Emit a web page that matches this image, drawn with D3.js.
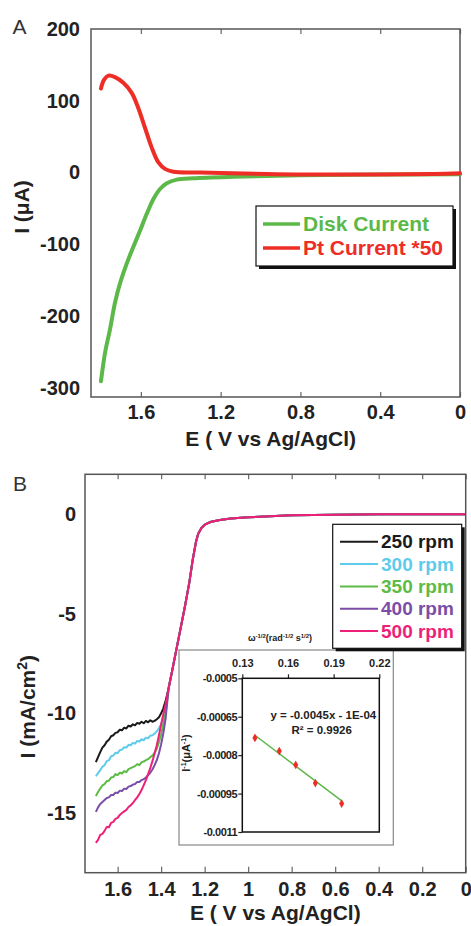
<!DOCTYPE html>
<html>
<head>
<meta charset="utf-8">
<script src="https://cdn.jsdelivr.net/npm/d3@7"></script>
<style>
  body { margin: 0; background: #fff; }
  svg { display: block; font-family: "Liberation Sans", Arial, sans-serif; }
</style>
</head>
<body>
<svg id="chart" width="471" height="926"></svg>
<script>
// ---- Panel A data (E in V, I in µA) ----
const diskPotential = [1.80, 1.78, 1.755, 1.73, 1.705, 1.671, 1.638, 1.604, 1.571, 1.537, 1.504, 1.47, 1.42, 1.337, 1.136, 0.8, 0.4, 0];
const diskCurrent   = [-291, -252, -219, -182, -155, -127, -104, -81, -58, -37, -23, -15, -10, -8, -6, -4, -3, -2.5];
const ptPotential   = [1.80, 1.785, 1.763, 1.73, 1.688, 1.646, 1.613, 1.579, 1.546, 1.512, 1.479, 1.437, 1.303, 0.969, 0.634, 0.134, 0];
const ptCurrent     = [117, 129, 135, 133, 125, 111, 90, 62, 35, 14, 5, 1, 0, -2, -3, -2, -1];
const ticksAx = [1.6, 1.2, 0.8, 0.4, 0];
const ticksAy = [200, 100, 0, -100, -200, -300];
const legendA = ["Disk Current", "Pt Current *50"];

// ---- Panel B data (E in V, I in mA/cm2) ----
const lowPotential = [1.70, 1.69, 1.68, 1.67, 1.66, 1.65, 1.64, 1.63, 1.62, 1.61, 1.60, 1.59, 1.58, 1.57, 1.56, 1.55, 1.54,
                      1.53, 1.52, 1.51, 1.50, 1.49, 1.48, 1.47, 1.46, 1.45, 1.44, 1.43, 1.42, 1.41, 1.40, 1.39, 1.38];
const rpm250 = [-12.45, -12.2, -11.95, -11.72, -11.6, -11.42, -11.33, -11.15, -11.1, -10.98, -10.95, -10.82, -10.85, -10.72, -10.76, -10.62, -10.66,
                -10.55, -10.6, -10.48, -10.52, -10.42, -10.5, -10.38, -10.45, -10.35, -10.42, -10.38, -10.3, -10.2, -10.0, -9.75, -9.4];
const rpm300 = [-13.15, -13.0, -12.85, -12.68, -12.6, -12.4, -12.35, -12.15, -12.12, -11.98, -12.0, -11.85, -11.82, -11.7, -11.72, -11.58, -11.6,
                -11.48, -11.52, -11.38, -11.42, -11.3, -11.35, -11.22, -11.25, -11.12, -11.1, -11.02, -10.9, -10.75, -10.55, -10.25, -9.8];
const rpm350 = [-14.15, -13.95, -13.78, -13.62, -13.55, -13.4, -13.38, -13.22, -13.2, -13.05, -13.1, -12.98, -13.02, -12.9, -12.95, -12.8, -12.75,
                -12.7, -12.65, -12.55, -12.6, -12.45, -12.42, -12.35, -12.3, -12.2, -12.12, -11.98, -11.78, -11.45, -11.05, -10.55, -10.0];
const rpm400 = [-14.95, -14.72, -14.55, -14.45, -14.35, -14.25, -14.22, -14.1, -14.1, -13.98, -14.0, -13.88, -13.9, -13.78, -13.8, -13.68, -13.65,
                -13.58, -13.55, -13.45, -13.45, -13.35, -13.3, -13.22, -13.1, -12.98, -12.82, -12.6, -12.35, -12.0, -11.55, -11.0, -10.3];
const rpm500 = [-16.5, -16.35, -16.1, -16.05, -15.9, -15.7, -15.72, -15.5, -15.45, -15.3, -15.25, -15.1, -15.0, -14.92, -14.85, -14.7, -14.62,
                -14.5, -14.35, -14.22, -14.05, -13.85, -13.6, -13.35, -13.05, -12.75, -12.4, -12.0, -11.6, -11.1, -10.55, -10.05, -9.55];
// all speeds overlap on the kinetic wave and the baseline
const tailPotential = [1.365, 1.35, 1.32, 1.29, 1.27, 1.255, 1.24, 1.23, 1.215, 1.195, 1.17, 1.13, 1.08, 1.0, 0.9, 0.8, 0.6, 0.4, 0.2, 0];
const tailCurrent   = [-8.7, -7.9, -6.25, -4.6, -3.4, -2.3, -1.4, -1.0, -0.7, -0.5, -0.38, -0.29, -0.22, -0.16, -0.1, -0.06, -0.03, -0.01, 0, 0];
const rpmLabels = ["250 rpm", "300 rpm", "350 rpm", "400 rpm", "500 rpm"];
const rpmColors = ["#1a1a1a", "#5ecbeb", "#5dbb46", "#7a4ea6", "#ee1f78"];
const ticksBx = [1.6, 1.4, 1.2, 1, 0.8, 0.6, 0.4, 0.2, 0];
const ticksBy = [0, -5, -10, -15];

// ---- Inset data (Koutecky-Levich) ----
const omegaInvSqrt = [0.1383, 0.1543, 0.1651, 0.178, 0.1953];
const invCurrent   = [-0.000733, -0.000784, -0.000838, -0.000909, -0.000989];
const fitSlope = -0.0045, fitIntercept = -0.0001;
const ticksIx = [0.13, 0.16, 0.19, 0.22];
const ticksIy = [-0.0005, -0.00065, -0.0008, -0.00095, -0.0011];

const svg = d3.select("#chart");
const FONT = '"Liberation Sans", Arial, sans-serif';
const GREEN = "#5cb848", RED = "#ee2d27";

function styleTicks(g, size) {
    g.attr("font-family", FONT);
    g.select(".domain").remove();
    g.selectAll("line").attr("stroke", "#666").attr("stroke-width", 1.2);
    g.selectAll("text").attr("font-size", size).attr("font-weight", "bold").attr("fill", "#222");
}
const fmtE = d => String(+d.toFixed(1));
const plain = d => String(d);   // keep ASCII hyphen as in the original figure

// ================= Panel A =================
const xA = d3.scaleLinear().domain([1.85, 0]).range([91, 460]);
const yA = d3.scaleLinear().domain([-313, 200]).range([397, 29]);

svg.append("g").attr("transform", "translate(0,397)")
    .call(d3.axisBottom(xA).tickValues(ticksAx).tickSizeInner(-5).tickSizeOuter(0).tickPadding(8).tickFormat(fmtE))
    .call(g => styleTicks(g, 20));
svg.append("g").attr("transform", "translate(0,29)")
    .call(d3.axisTop(xA).tickValues(ticksAx).tickSizeInner(-5).tickSizeOuter(0).tickFormat(""))
    .call(g => styleTicks(g, 20));
svg.append("g").attr("transform", "translate(91,0)")
    .call(d3.axisLeft(yA).tickValues(ticksAy).tickSize(0).tickPadding(11).tickFormat(plain))
    .call(g => styleTicks(g, 20));

svg.append("rect").attr("x", 91).attr("y", 29).attr("width", 369).attr("height", 368)
    .attr("fill", "none").attr("stroke", "#555").attr("stroke-width", 1.5);

const lineA = d3.line().x(d => xA(d[0])).y(d => yA(d[1])).curve(d3.curveCatmullRom);
svg.append("path").datum(d3.zip(diskPotential, diskCurrent))
    .attr("d", lineA).attr("fill", "none").attr("stroke", GREEN).attr("stroke-width", 4).attr("stroke-linecap", "round");
svg.append("path").datum(d3.zip(ptPotential, ptCurrent))
    .attr("d", lineA).attr("fill", "none").attr("stroke", RED).attr("stroke-width", 4).attr("stroke-linecap", "round");

// Legend A
const legA = svg.append("g");
legA.append("rect").attr("x", 259).attr("y", 209).attr("width", 197).attr("height", 60).attr("fill", "#111");
legA.append("rect").attr("x", 256).attr("y", 206).attr("width", 197).attr("height", 60)
    .attr("fill", "#fff").attr("stroke", "#111").attr("stroke-width", 1.2);
legendA.forEach((name, i) => {
    const c = i === 0 ? GREEN : RED;
    const yy = 224 + i * 24;
    legA.append("line").attr("x1", 263).attr("x2", 300).attr("y1", yy).attr("y2", yy)
        .attr("stroke", c).attr("stroke-width", 3.5);
    legA.append("text").attr("x", 303).attr("y", yy).attr("dy", "0.35em")
        .attr("font-size", 21).attr("font-weight", "bold").attr("fill", c).text(name);
});

svg.append("text").attr("x", 270.7).attr("y", 438.3).attr("dy", "0.35em").attr("text-anchor", "middle")
    .attr("font-size", 21).attr("font-weight", "bold").attr("fill", "#222").text("E ( V vs Ag/AgCl)");
svg.append("text").attr("transform", "translate(22,207) rotate(-90)").attr("dy", "0.35em").attr("text-anchor", "middle")
    .attr("font-size", 21).attr("font-weight", "bold").attr("fill", "#222").text("I (μA)");
svg.append("text").attr("x", 12.5).attr("y", 27).attr("dy", "0.35em")
    .attr("font-size", 21).attr("fill", "#333").text("A");

// ================= Panel B =================
const xB = d3.scaleLinear().domain([1.75, 0]).range([85, 465.7]);
const yB = d3.scaleLinear().domain([-18, 2]).range([872.7, 474.3]);

svg.append("g").attr("transform", "translate(0,872.7)")
    .call(d3.axisBottom(xB).tickValues(ticksBx).tickSizeInner(-6).tickSizeOuter(0).tickPadding(9.6).tickFormat(fmtE))
    .call(g => styleTicks(g, 20));
svg.append("g").attr("transform", "translate(0,474.3)")
    .call(d3.axisTop(xB).tickValues(ticksBx).tickSizeInner(-5).tickSizeOuter(0).tickFormat(""))
    .call(g => styleTicks(g, 20));
svg.append("g").attr("transform", "translate(85,0)")
    .call(d3.axisLeft(yB).tickValues(ticksBy).tickSize(0).tickPadding(9).tickFormat(plain))
    .call(g => styleTicks(g, 20));

svg.append("defs").append("clipPath").attr("id", "clipB")
    .append("rect").attr("x", 85).attr("y", 474.3).attr("width", 380.7).attr("height", 398.4);

const lineB = d3.line().x(d => xB(d[0])).y(d => yB(d[1]));
const seriesB = [rpm250, rpm300, rpm350, rpm400, rpm500];
const curvesB = svg.append("g").attr("clip-path", "url(#clipB)");
seriesB.forEach((vals, i) => {
    const pts = d3.zip(lowPotential, vals).concat(d3.zip(tailPotential, tailCurrent));
    curvesB.append("path").datum(pts).attr("d", lineB)
        .attr("fill", "none").attr("stroke", rpmColors[i]).attr("stroke-width", 2).attr("stroke-linejoin", "round");
});

svg.append("rect").attr("x", 85).attr("y", 474.3).attr("width", 380.7).attr("height", 398.4)
    .attr("fill", "none").attr("stroke", "#555").attr("stroke-width", 1.5);

// Inset
const xI = d3.scaleLinear().domain([0.13, 0.22]).range([242.3, 379.3]);
const yI = d3.scaleLinear().domain([-0.0011, -0.0005]).range([832, 678.3]);
svg.append("rect").attr("x", 179).attr("y", 650).attr("width", 214.3).attr("height", 195)
    .attr("fill", "#fff").attr("stroke", "#888").attr("stroke-width", 1.2);
svg.append("g").attr("transform", "translate(0,678.3)")
    .call(d3.axisTop(xI).tickValues(ticksIx).tickSize(4).tickPadding(7.5).tickFormat(plain))
    .call(g => styleTicks(g, 11))
    .call(g => g.selectAll("line").attr("stroke", "#222"));
svg.append("g").attr("transform", "translate(242.3,0)")
    .call(d3.axisLeft(yI).tickValues(ticksIy).tickSize(4).tickPadding(1).tickFormat(plain))
    .call(g => styleTicks(g, 11))
    .call(g => g.selectAll("line").attr("stroke", "#222"))
    .call(g => g.selectAll("text").attr("letter-spacing", "-0.4"));
svg.append("rect").attr("x", 242.3).attr("y", 678.3).attr("width", 137).attr("height", 153.7)
    .attr("fill", "none").attr("stroke", "#111").attr("stroke-width", 1.5);

const fitX = d3.extent(omegaInvSqrt);
svg.append("line")
    .attr("x1", xI(fitX[0])).attr("y1", yI(fitSlope * fitX[0] + fitIntercept))
    .attr("x2", xI(fitX[1])).attr("y2", yI(fitSlope * fitX[1] + fitIntercept))
    .attr("stroke", GREEN).attr("stroke-width", 1.5);
svg.append("g").selectAll("path").data(d3.zip(omegaInvSqrt, invCurrent)).join("path")
    .attr("transform", d => `translate(${xI(d[0])},${yI(d[1])})`)
    .attr("d", d3.symbol(d3.symbolDiamond, 22)).attr("fill", RED);

const eq = svg.append("g").attr("font-size", 11.5).attr("font-weight", "bold").attr("fill", "#222").attr("text-anchor", "middle");
eq.append("text").attr("x", 323.3).attr("y", 715).attr("dy", "0.35em").text("y = -0.0045x - 1E-04");
eq.append("text").attr("x", 321.7).attr("y", 730).attr("dy", "0.35em").text("R² = 0.9926");

const tTitle = svg.append("text").attr("x", 280).attr("y", 638.3).attr("dy", "0.35em").attr("text-anchor", "middle")
    .attr("font-size", 9).attr("font-weight", "bold").attr("fill", "#222");
tTitle.append("tspan").text("ω");
tTitle.append("tspan").attr("font-size", 6).attr("dy", -3).text("-1/2");
tTitle.append("tspan").attr("dy", 3).text("(rad");
tTitle.append("tspan").attr("font-size", 6).attr("dy", -3).text("-1/2");
tTitle.append("tspan").attr("dy", 3).text(" s");
tTitle.append("tspan").attr("font-size", 6).attr("dy", -3).text("1/2");
tTitle.append("tspan").attr("dy", 3).text(")");

const iLabel = svg.append("text").attr("transform", "translate(185.7,753) rotate(-90)").attr("dy", "0.35em")
    .attr("text-anchor", "middle").attr("font-size", 11).attr("font-weight", "bold").attr("fill", "#222");
iLabel.append("tspan").text("I");
iLabel.append("tspan").attr("font-size", 7).attr("dy", -4).text("-1");
iLabel.append("tspan").attr("dy", 4).text("(μA");
iLabel.append("tspan").attr("font-size", 7).attr("dy", -4).text("-1");
iLabel.append("tspan").attr("dy", 4).text(")");

// Legend B
const legB = svg.append("g");
legB.append("rect").attr("x", 335.7).attr("y", 527.3).attr("width", 129).attr("height", 124).attr("fill", "#111");
legB.append("rect").attr("x", 332.7).attr("y", 524.3).attr("width", 129).attr("height", 124)
    .attr("fill", "#fff").attr("stroke", "#111").attr("stroke-width", 1.2);
rpmLabels.forEach((name, i) => {
    const yy = 541.7 + i * 22.35;
    legB.append("line").attr("x1", 340).attr("x2", 378).attr("y1", yy).attr("y2", yy)
        .attr("stroke", rpmColors[i]).attr("stroke-width", 2);
    legB.append("text").attr("x", 381).attr("y", yy).attr("dy", "0.35em")
        .attr("font-size", 19).attr("font-weight", "bold").attr("fill", rpmColors[i]).text(name);
});

svg.append("text").attr("x", 275.3).attr("y", 913).attr("dy", "0.35em").attr("text-anchor", "middle")
    .attr("font-size", 21).attr("font-weight", "bold").attr("fill", "#222").text("E ( V vs Ag/AgCl)");
const yLabB = svg.append("text").attr("transform", "translate(28,706.7) rotate(-90)").attr("dy", "0.35em")
    .attr("text-anchor", "middle").attr("font-size", 21).attr("font-weight", "bold").attr("fill", "#222");
yLabB.append("tspan").text("I (mA/cm");
yLabB.append("tspan").attr("font-size", 14).attr("dy", -8).text("2");
yLabB.append("tspan").attr("dy", 8).text(")");
svg.append("text").attr("x", 13).attr("y", 484).attr("dy", "0.35em")
    .attr("font-size", 21).attr("fill", "#333").text("B");
</script>
</body>
</html>
